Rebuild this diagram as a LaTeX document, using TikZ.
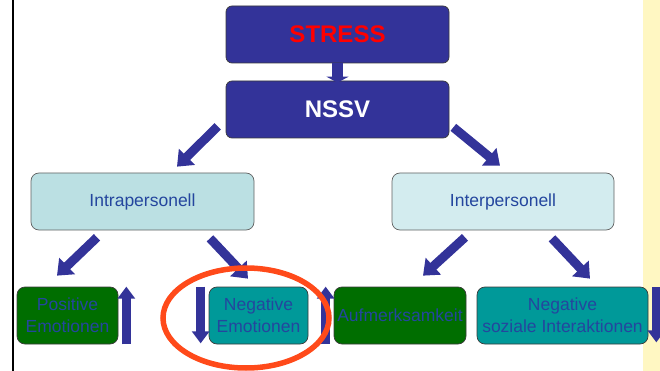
\documentclass[tikz,border=0pt]{standalone}
\usepackage{fontspec}
\setmainfont{Liberation Sans}
\usetikzlibrary{arrows.meta,calc}
\definecolor{vblock}{HTML}{333399}
\definecolor{vedge}{HTML}{3A3A3A}
\definecolor{vtext}{HTML}{24469E}
\definecolor{vpale}{HTML}{BBE0E3}
\definecolor{vpaler}{HTML}{D3ECEF}
\definecolor{vgreen}{HTML}{006E00}
\definecolor{vteal}{HTML}{009999}
\definecolor{vyellow}{HTML}{FFF7C2}
\definecolor{vring}{HTML}{FF4A1A}
\tikzset{
  topbox/.style={fill=vblock,draw=vedge,rounded corners=6pt,line width=0.7pt,minimum width=223pt,minimum height=57pt,inner sep=1pt,font=\fontsize{24}{28}\selectfont\bfseries},
  midbox/.style={draw=vedge!80,rounded corners=8pt,line width=0.7pt,minimum width=222pt,minimum height=57pt,inner sep=1pt,text=vtext,font=\fontsize{17.5}{21.5}\selectfont},
  lowbox/.style={draw=vedge,rounded corners=8pt,line width=0.7pt,minimum height=57pt,inner sep=1pt,align=center,text=vtext,font=\fontsize{17.5}{22}\selectfont},
  barr/.style={-{Triangle[width=22pt,length=14pt]},line width=9pt,draw=vblock},
  uparr/.style={-{Triangle[width=17pt,length=12pt]},line width=9pt,draw=vblock},
  ring/.style={draw=vring,line width=5.5pt},
}
\begin{document}
\begin{tikzpicture}[x=1pt,y=-1pt]
  \useasboundingbox (0,0) rectangle (660,371);
  \clip (0,0) rectangle (660,371);
  \fill[vyellow] (643,0) rectangle (660,371);
  \draw[line width=1.6pt] (13,0) -- (13,371);
  % top
  \node[topbox,text=red] (stress) at (337.5,34.5) {STRESS};
  \node[topbox,text=white] (nssv) at (337.5,109.5) {NSSV};
  \draw[-{Triangle[width=22pt,length=6pt]},line width=11pt,draw=vblock,shorten >=-2pt] (stress.south) -- (nssv.north);
  % middle
  \node[midbox,fill=vpale,minimum width=223pt] (intra) at (142.5,201.5) {Intrapersonell};
  \node[midbox,fill=vpaler] (inter) at (503,201.5) {Interpersonell};
  \draw[barr] ($(nssv.south west)+(-8,-12)$) -- ($(intra.north)+(34.5,-6)$);
  \draw[barr] ($(nssv.south east)+(4,-11)$) -- ($(inter.north)+(-3,-7)$);
  % bottom
  \node[lowbox,fill=vgreen,minimum width=101pt] (posemo) at (67.5,315.5) {Positive\\Emotionen};
  \node[lowbox,fill=vteal,minimum width=99pt] (negemo) at (258.5,315.5) {Negative\\Emotionen};
  \node[lowbox,fill=vgreen,minimum width=132pt] (aufm) at (400,315.5) {Aufmerksamkeit};
  \node[lowbox,fill=vteal,minimum width=171pt] (negsoz) at (562.5,315.5) {Negative\\soziale Interaktionen};
  \draw[barr] ($(intra.south)+(-45.5,7)$) -- ($(posemo.north)+(-10.5,-11)$);
  \draw[barr] ($(intra.south)+(67.5,8)$) -- ($(negemo.north)+(-10.5,-8)$);
  \draw[barr] ($(inter.south)+(-38,7)$) -- ($(aufm.north)+(23,-11)$);
  \draw[barr] ($(inter.south)+(49,8)$) -- ($(negsoz.north)+(27.5,-8)$);
  % up / down
  \draw[uparr] ($(posemo.south east)+(8,0)$) -- ($(posemo.north east)+(8,0)$);
  \draw[uparr] ($(negemo.north west)+(-8,0)$) -- ($(negemo.south west)+(-8,-1)$);
  \draw[uparr] ($(aufm.south west)+(-8,0)$) -- ($(aufm.north west)+(-8,0)$);
  \draw[uparr] ($(negsoz.north east)+(8,0)$) -- ($(negsoz.south east)+(8,-2)$);
  \draw[ring] (246,318) ellipse [x radius=83, y radius=50];
\end{tikzpicture}
\end{document}
